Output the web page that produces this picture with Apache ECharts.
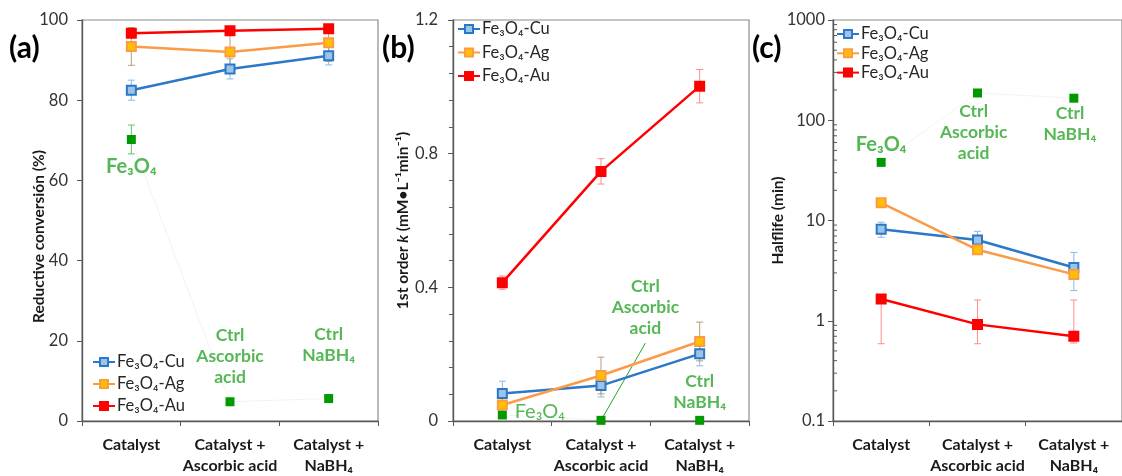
<!DOCTYPE html>
<html><head><meta charset="utf-8">
<script src="https://cdn.jsdelivr.net/npm/echarts@6/dist/echarts.min.js"></script>
<style>html,body{margin:0;padding:0;background:#fff}#c{width:1122px;height:476px}</style>
</head><body><div id="c"></div>
<script>
// ---------- data ----------
const categories = ['Catalyst', 'Catalyst +\nAscorbic acid', 'Catalyst +\nNaBH₄'];
const seriesNames = ['Fe₃O₄-Cu', 'Fe₃O₄-Ag', 'Fe₃O₄-Au'];

// (a) Reductive conversion (%)
const convCu = [82.5, 87.8, 91.1];
const convCuErr = [2.5, 2.5, 2.3];
const convAg = [93.4, 92.0, 94.3];
const convAgErr = [4.7, 4.5, 4.6];
const convAu = [96.7, 97.3, 97.8];
const convAuErr = [1.0, 1.0, 1.0];
const convFe = [70.2, 4.8, 5.6];
const convFeErr = [3.6, 0.3, 0.3];

// (b) 1st order k
const kCu = [0.082, 0.106, 0.201];
const kCuErr = [0.037, 0.034, 0.036];
const kAg = [0.048, 0.136, 0.238];
const kAgErr = [0.020, 0.055, 0.058];
const kAu = [0.414, 0.747, 1.002];
const kAuErr = [0.020, 0.038, 0.050];
const kFe = [0.018, 0.002, 0.002];

// (c) Halflife (min), log scale
const halfCu = [8.2, 6.4, 3.4];
const halfCuLow = [6.8, 5.2, 2.0];
const halfCuHigh = [9.6, 7.8, 4.8];
const halfAg = [15.0, 5.1, 2.9];
const halfAgLow = [14.0, 4.6, 2.6];
const halfAgHigh = [16.0, 5.6, 3.2];
const halfAu = [1.65, 0.92, 0.70];
const halfAuLow = [0.59, 0.59, 0.60];
const halfAuHigh = [1.8, 1.61, 1.61];
const halfFe = [38, 187, 166];

const yTicksA = [0, 20, 40, 60, 80, 100];
const yTicksB = [0, 0.4, 0.8, 1.2];
const yTicksC = [0.1, 1, 10, 100, 1000];
const minorTicksC = [0.2,0.3,0.4,0.5,0.6,0.7,0.8,0.9,2,3,4,5,6,7,8,9,20,30,40,50,60,70,80,90,200,300,400,500,600,700,800,900];

// ---------- styles ----------
const fam = 'Lato, "Open Sans", "DejaVu Sans", sans-serif';
const lineColors = ['#2a78c8', '#fb9b45', '#ff0000'];
const fillColors = ['#9dc3e6', '#ffc000', '#ff0000'];
const errColors = ['#8ab8e6', '#b3a06e', '#ff8c8c'];
const green = '#009a00';
const greenText = '#2aa52a';
const greenErr = '#66c266';

const grids = [
  {left: 82, top: 20, width: 296, height: 403},
  {left: 453, top: 20, width: 296, height: 403},
  {left: 833, top: 20, width: 297, height: 406}
].map(g => Object.assign({show: true, borderColor: '#8c8c8c', borderWidth: 1.2, backgroundColor: 'transparent'}, g));

const xAxes = [];
grids.forEach((g, i) => {
  xAxes.push({
    type: 'category', gridIndex: i, data: categories, boundaryGap: true,
    axisLine: {onZero: false, lineStyle: {color: '#595959', width: 1.4}},
    axisTick: {show: true, length: 5, lineStyle: {color: '#595959'}},
    axisLabel: {fontFamily: fam, fontWeight: 'bold', fontSize: 16, color: '#1a1a1a', lineHeight: 21, margin: 13, interval: 0}
  });
  xAxes.push({type: 'value', gridIndex: i, min: -0.5, max: 2.5, show: false, axisLine: {onZero: false}});
});

const yLabel = m => ({fontFamily: fam, fontSize: 16.5, color: '#333', margin: m});
const yLine = {show: true, onZero: false, lineStyle: {color: '#595959', width: 1.4}};
const yTick = {show: true, length: 5, lineStyle: {color: '#595959'}};
const yName = {fontFamily: fam, fontWeight: 'bold', fontSize: 15.5, color: '#1a1a1a'};

const yAxes = [
  {type: 'value', gridIndex: 0, min: yTicksA[0], max: yTicksA[yTicksA.length-1], interval: 20,
   axisLine: yLine, axisTick: yTick, axisLabel: yLabel(14), splitLine: {show: false},
   name: 'Reductive conversión (%)', nameLocation: 'middle', nameGap: 35, nameMoveOverlap: false,
   nameTextStyle: Object.assign({}, yName, {padding: [0, 32, 0, 0]})},
  {type: 'value', gridIndex: 1, min: yTicksB[0], max: yTicksB[yTicksB.length-1], interval: 0.4,
   axisLine: yLine, axisTick: yTick, axisLabel: yLabel(15), splitLine: {show: false},
   minorTick: {show: true, splitNumber: 5, length: 4, lineStyle: {color: '#595959'}},
   name: '1st order {i|k} (mM•L⁻¹min⁻¹)', nameLocation: 'middle', nameGap: 42, nameMoveOverlap: false,
   nameTextStyle: Object.assign({}, yName, {rich: {i: Object.assign({}, yName, {fontStyle: 'italic'})}})},
  {type: 'log', logBase: 10, gridIndex: 2, min: yTicksC[0], max: yTicksC[yTicksC.length-1],
   axisLine: yLine, axisTick: yTick,
   axisLabel: Object.assign({}, yLabel(8), {formatter: v => String(+v)}), splitLine: {show: false},
   name: 'Halflife (min)', nameLocation: 'middle', nameGap: 47, nameMoveOverlap: false, nameTextStyle: yName}
];

function errRender(color) {
  return function (params, api) {
    const x = api.value(0), lo = api.value(1), hi = api.value(2);
    const p1 = api.coord([x, lo]), p2 = api.coord([x, hi]);
    const w = 3.5;
    const st = {stroke: color, lineWidth: 1};
    return {type: 'group', children: [
      {type: 'line', shape: {x1: p1[0], y1: p1[1], x2: p2[0], y2: p2[1]}, style: st},
      {type: 'line', shape: {x1: p1[0]-w, y1: p1[1], x2: p1[0]+w, y2: p1[1]}, style: st},
      {type: 'line', shape: {x1: p2[0]-w, y1: p2[1], x2: p2[0]+w, y2: p2[1]}, style: st}
    ]};
  };
}
function errSeries(gi, lows, highs, color) {
  return {type: 'custom', xAxisIndex: 2*gi, yAxisIndex: gi, z: 2, silent: true,
    renderItem: errRender(color), encode: {x: 0, y: [1, 2]},
    data: lows.map((l, i) => [i, l, highs[i]])};
}
function lineSeries(gi, k, vals) {
  return {type: 'line', name: seriesNames[k], xAxisIndex: 2*gi, yAxisIndex: gi, z: 4 + k,
    data: vals, symbol: 'rect', symbolSize: 9,
    lineStyle: {color: lineColors[k], width: 2.5},
    itemStyle: {color: fillColors[k], borderColor: k === 2 ? '#ff0000' : lineColors[k], borderWidth: 2},
    emphasis: {disabled: true}, animation: false};
}
function feSeries(gi, vals) {
  return {type: 'line', name: 'Fe₃O₄ ctrl', xAxisIndex: 2*gi, yAxisIndex: gi, z: 3,
    data: vals, symbol: 'rect', symbolSize: 9,
    lineStyle: {color: 'rgba(0,0,0,0.05)', width: 1},
    itemStyle: {color: green}, emphasis: {disabled: true}, animation: false};
}
const annStyle = {fontFamily: fam, fontWeight: 'bold', color: greenText, fontSize: 17.5, lineHeight: 21, align: 'center', verticalAlign: 'middle'};
function annSeries(gi, items) {
  return {type: 'scatter', xAxisIndex: 2*gi + 1, yAxisIndex: gi, symbolSize: 0, silent: true, z: 6,
    data: items.map(it => ({value: [it[0], it[1]], label: Object.assign({show: true, position: 'inside', formatter: it[2]}, annStyle, it[3] || {})}))};
}
const pm = (v, e) => v.map((x, i) => x - e[i]);
const pp = (v, e) => v.map((x, i) => x + e[i]);
const feBig = {fontSize: 20};

const series = [
  // (a)
  errSeries(0, pm(convCu, convCuErr), pp(convCu, convCuErr), errColors[0]),
  errSeries(0, pm(convAg, convAgErr), pp(convAg, convAgErr), errColors[1]),
  errSeries(0, pm(convAu, convAuErr), pp(convAu, convAuErr), errColors[2]),
  errSeries(0, pm(convFe, convFeErr), pp(convFe, convFeErr), greenErr),
  feSeries(0, convFe),
  lineSeries(0, 0, convCu), lineSeries(0, 1, convAg), lineSeries(0, 2, convAu),
  annSeries(0, [[0, 63.5, 'Fe₃O₄', feBig], [1, 16.1, 'Ctrl\nAscorbic\nacid'], [2, 19.0, 'Ctrl\nNaBH₄']]),
  // (b)
  errSeries(1, pm(kCu, kCuErr), pp(kCu, kCuErr), errColors[0]),
  errSeries(1, pm(kAg, kAgErr), pp(kAg, kAgErr), errColors[1]),
  errSeries(1, pm(kAu, kAuErr), pp(kAu, kAuErr), errColors[2]),
  feSeries(1, kFe),
  lineSeries(1, 0, kCu), lineSeries(1, 1, kAg), lineSeries(1, 2, kAu),
  {type: 'line', xAxisIndex: 3, yAxisIndex: 1, symbol: 'none', silent: true, z: 3,
   lineStyle: {color: '#22a822', width: 1}, data: [[1, kFe[1]], [1.45, 0.233]], animation: false},
  annSeries(1, [[0.38, 0.027, 'Fe₃O₄', {fontSize: 20, fontWeight: 'normal'}], [1.45, 0.34, 'Ctrl\nAscorbic\nacid'], [2.0, 0.087, 'Ctrl\nNaBH₄']]),
  // (c)
  errSeries(2, halfCuLow, halfCuHigh, errColors[0]),
  errSeries(2, halfAgLow, halfAgHigh, errColors[1]),
  errSeries(2, halfAuLow, halfAuHigh, errColors[2]),
  feSeries(2, halfFe),
  lineSeries(2, 0, halfCu), lineSeries(2, 1, halfAg), lineSeries(2, 2, halfAu),
  annSeries(2, [[0, 57.3, 'Fe₃O₄', feBig], [0.96, 75.4, 'Ctrl\nAscorbic\nacid'], [1.96, 91.2, 'Ctrl\nNaBH₄']]),
  {type: 'custom', xAxisIndex: 5, yAxisIndex: 2, silent: true, z: 1, clip: false,
   encode: {x: 0, y: 1}, data: minorTicksC.map(v => [0, v]),
   renderItem: function (params, api) {
     const p = api.coord([0, api.value(1)]);
     const x0 = params.coordSys.x;
     return {type: 'line', shape: {x1: x0, y1: p[1], x2: x0 + 4, y2: p[1]}, style: {stroke: '#595959', lineWidth: 1}};
   }}
];

function legend(left, top, gap) {
  return {orient: 'vertical', left: left, top: top, padding: 0, itemGap: gap, itemWidth: 22, itemHeight: 10,
    data: seriesNames, selectedMode: false,
    textStyle: {fontFamily: fam, fontSize: 16.5, color: '#262626', lineHeight: 18, padding: [0, 0, 0, -3]}};
}

const letter = (x, t) => ({type: 'text', left: x, top: 33, style: {text: t, font: 'bold 30px ' + fam, fill: '#000'}});

const option = {
  backgroundColor: '#fff',
  animation: false,
  grid: grids,
  xAxis: xAxes,
  yAxis: yAxes,
  legend: [legend(92, 353, 4), legend(457, 20, 5.5), legend(836, 25, 1.3)],
  graphic: [letter(9, '(a)'), letter(382, '(b)'), letter(752, '(c)')],
  series: series
};
const chart = echarts.init(document.getElementById('c'), null, {renderer: 'canvas'});
chart.setOption(option);
</script></body></html>
